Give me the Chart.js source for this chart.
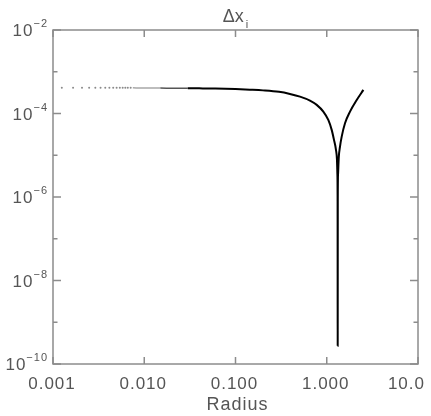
<!DOCTYPE html>
<html>
<head>
<meta charset="utf-8">
<script src="https://cdn.jsdelivr.net/npm/chart.js@4.4.0/dist/chart.umd.min.js"></script>
<style>
html,body{margin:0;padding:0;background:#fff;}
#wrap{width:431px;height:416px;position:relative;}
</style>
</head>
<body>
<div id="wrap"><canvas id="c" width="431" height="416"></canvas></div>
<script>
// ---- data ----
const titleMain = 'Δx';
const titleSub = 'i';
const xTitle = 'Radius';
const xTickVals = [0.001, 0.01, 0.1, 1, 10];
const xTickLabels = ['0.001', '0.010', '0.100', '1.000', '10.0'];
const yTickVals = [1e-10, 1e-9, 1e-8, 1e-7, 1e-6, 1e-5, 1e-4, 1e-3, 1e-2];
const yTickBase = ['10', '', '10', '', '10', '', '10', '', '10'];
const yTickExp = ['−10', '', '−8', '', '−6', '', '−4', '', '−2'];

// sparse inner grid points (drawn as dots)
const dotR = [0.00125, 0.00166, 0.00208, 0.00249, 0.00291, 0.00332, 0.00374, 0.00415,
              0.00457, 0.00498, 0.0054, 0.0058, 0.0062, 0.0066, 0.0071];
const dotV = [4.15e-4, 4.15e-4, 4.15e-4, 4.15e-4, 4.15e-4, 4.15e-4, 4.14e-4, 4.14e-4,
              4.14e-4, 4.13e-4, 4.13e-4, 4.13e-4, 4.12e-4, 4.12e-4, 4.12e-4];

// continuous curve
const curveR = [0.0075, 0.01, 0.015, 0.02, 0.03, 0.04, 0.06, 0.1, 0.144, 0.2, 0.3, 0.395,
                0.509, 0.655, 0.776, 0.917, 1.04, 1.133, 1.2, 1.262, 1.294, 1.308, 1.315,
                1.318, 1.321, 1.33, 1.355, 1.397, 1.458, 1.585, 1.798, 2.13, 2.52];
const curveV = [4.11e-4, 4.08e-4, 4.06e-4, 4.04e-4, 4.02e-4, 4.0e-4, 3.96e-4, 3.85e-4,
                3.72e-4, 3.58e-4, 3.3e-4, 2.94e-4, 2.54e-4, 2.04e-4, 1.61e-4, 1.11e-4,
                7.0e-5, 4.05e-5, 2.34e-5, 1.35e-5, 7.8e-6, 3.5e-6, 8e-7,
                2.75e-10, 8e-7, 3.5e-6, 9e-6, 1.61e-5, 2.8e-5, 5.86e-5, 1.11e-4, 2.11e-4,
                3.67e-4];

const axisColor = '#8c8c8c';
const textColor = '#555555';
const FONT = '"Liberation Sans", Arial, sans-serif';

const framePlugin = {
  id: 'frame',
  afterDraw(chart) {
    const ctx = chart.ctx, a = chart.chartArea;
    const xs = chart.scales.x, ys = chart.scales.y;
    ctx.save();
    ctx.strokeStyle = axisColor;
    ctx.lineWidth = 1.5;
    ctx.strokeRect(a.left, a.top, a.right - a.left, a.bottom - a.top);
    ctx.beginPath();
    xTickVals.forEach(v => {
      const px = xs.getPixelForValue(v);
      ctx.moveTo(px, a.bottom); ctx.lineTo(px, a.bottom - 7);
      ctx.moveTo(px, a.top); ctx.lineTo(px, a.top + 7);
    });
    yTickVals.forEach((v, i) => {
      const py = ys.getPixelForValue(v);
      const len = yTickBase[i] ? 8 : 4.5;
      ctx.moveTo(a.left, py); ctx.lineTo(a.left + len, py);
      ctx.moveTo(a.right, py); ctx.lineTo(a.right - len, py);
    });
    ctx.stroke();

    ctx.fillStyle = textColor;
    ctx.textBaseline = 'alphabetic';
    ctx.textAlign = 'left';
    if ('letterSpacing' in ctx) ctx.letterSpacing = '1px';

    // x tick labels (kept inside the canvas)
    ctx.font = '17px ' + FONT;
    xTickVals.forEach((v, i) => {
      const px = xs.getPixelForValue(v) - 1;
      const w = ctx.measureText(xTickLabels[i]).width;
      let x = px - w / 2;
      if (x + w > chart.width - 6) x = chart.width - 6 - w;
      ctx.fillText(xTickLabels[i], x, 389);
    });

    // y tick labels with real superscripts
    yTickVals.forEach((v, i) => {
      if (!yTickBase[i]) return;
      const py = ys.getPixelForValue(v);
      ctx.font = '11px ' + FONT;
      const we = ctx.measureText(yTickExp[i]).width;
      ctx.font = '17px ' + FONT;
      const wb = ctx.measureText(yTickBase[i]).width;
      const right = a.left - 5;
      const xe = right - we;
      const xb = xe - wb;
      ctx.fillText(yTickBase[i], xb, py + 6);
      ctx.font = '11px ' + FONT;
      ctx.fillText(yTickExp[i], xe, py - 3);
    });

    // axis title
    ctx.font = '18px ' + FONT;
    const wr = ctx.measureText(xTitle).width;
    ctx.fillText(xTitle, (a.left + a.right) / 2 + 2 - wr / 2, 410);

    // title with subscript
    if ('letterSpacing' in ctx) ctx.letterSpacing = '0px';
    ctx.font = '18px ' + FONT;
    const wm = ctx.measureText(titleMain).width;
    ctx.font = '11px ' + FONT;
    const ws = ctx.measureText(titleSub).width;
    const cx = (a.left + a.right) / 2;
    const x0 = cx - (wm + ws + 2) / 2;
    ctx.font = '18px ' + FONT;
    ctx.fillText(titleMain, x0, 22);
    ctx.font = '11px ' + FONT;
    ctx.fillText(titleSub, x0 + wm + 2, 28);
    ctx.restore();
  }
};

new Chart(document.getElementById('c'), {
  type: 'scatter',
  data: {
    datasets: [
      {
        label: 'dots',
        data: dotR.map((r, i) => ({x: r, y: dotV[i]})),
        showLine: false,
        pointRadius: 1,
        pointBorderWidth: 0,
        pointBackgroundColor: '#8a8a8a',
        borderColor: '#8a8a8a'
      },
      {
        label: 'curve',
        data: curveR.map((r, i) => ({x: r, y: curveV[i]})),
        showLine: true,
        pointRadius: 0,
        borderColor: '#000',
        borderWidth: 2,
        cubicInterpolationMode: 'monotone',
        segment: {
          borderColor: c => c.p0.parsed.x < 0.012 ? '#a8a8a8' : (c.p0.parsed.x < 0.025 ? '#555' : '#000'),
          borderWidth: c => c.p0.parsed.x < 0.025 ? 1.5 : 2
        }
      }
    ]
  },
  options: {
    responsive: false,
    animation: false,
    devicePixelRatio: 1,
    layout: {padding: {left: 0, right: 13, top: 30, bottom: 0}},
    plugins: {
      legend: {display: false},
      tooltip: {enabled: false},
      title: {display: false}
    },
    scales: {
      x: {
        type: 'logarithmic',
        min: 0.001, max: 10,
        grid: {display: false, drawTicks: false},
        border: {display: false},
        afterBuildTicks: s => { s.ticks = xTickVals.map(v => ({value: v})); },
        afterFit: s => { s.height = 52; s.paddingLeft = 0; s.paddingRight = 0; },
        ticks: {display: false}
      },
      y: {
        type: 'logarithmic',
        min: 1e-10, max: 1e-2,
        grid: {display: false, drawTicks: false},
        border: {display: false},
        afterBuildTicks: s => { s.ticks = yTickVals.map(v => ({value: v})); },
        afterFit: s => { s.width = 53; s.paddingTop = 0; s.paddingBottom = 0; },
        ticks: {display: false}
      }
    }
  },
  plugins: [framePlugin]
});
</script>
</body>
</html>
